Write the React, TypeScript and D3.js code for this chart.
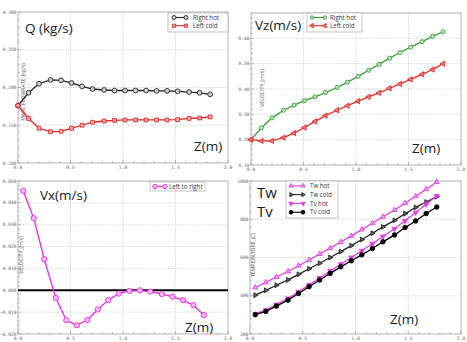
import React from 'react';
import * as d3 from 'd3';

// axial positions (m): node values for the top charts, cell centres for the bottom ones
const zNodes = [0, 0.1, 0.2, 0.31, 0.41, 0.51, 0.61, 0.71, 0.82, 0.92, 1.02, 1.12, 1.22, 1.32, 1.42, 1.52, 1.63, 1.73, 1.83];
const zCells = [0.05, 0.15, 0.25, 0.36, 0.46, 0.56, 0.66, 0.76, 0.86, 0.96, 1.06, 1.16, 1.26, 1.37, 1.47, 1.57, 1.67, 1.77];

// Q (kg/s)
const qRightHot = [0.176, 0.193, 0.205, 0.21, 0.2095, 0.206, 0.2015, 0.198, 0.1967, 0.196, 0.196, 0.196, 0.196, 0.1955, 0.1955, 0.195, 0.194, 0.193, 0.191];
const qLeftCold = [0.176, 0.159, 0.146, 0.1415, 0.142, 0.146, 0.15, 0.154, 0.1556, 0.1565, 0.157, 0.157, 0.157, 0.157, 0.157, 0.1574, 0.159, 0.1596, 0.161];

// Vz (m/s)
const vzRightHot = [0.2, 0.247, 0.286, 0.316, 0.336, 0.354, 0.369, 0.386, 0.406, 0.427, 0.45, 0.474, 0.497, 0.522, 0.544, 0.565, 0.587, 0.608, 0.626];
const vzLeftCold = [0.2, 0.195, 0.195, 0.208, 0.226, 0.248, 0.272, 0.295, 0.316, 0.334, 0.352, 0.369, 0.385, 0.403, 0.42, 0.438, 0.458, 0.477, 0.5];

// Vx (m/s)
const vxLeftToRight = [0.0455, 0.033, 0.0142, -0.0035, -0.0137, -0.016, -0.0136, -0.0088, -0.0045, -0.0015, -0.0003, 0.0, -0.0006, -0.0017, -0.0029, -0.0045, -0.0068, -0.0113];

// temperatures (C)
const twHot = [443, 470, 498, 527, 557, 587, 618, 649, 681, 713, 746, 779, 813, 848, 884, 920, 957, 995];
const twCold = [403, 428, 455, 483, 512, 541, 570, 600, 631, 662, 694, 727, 760, 794, 829, 862, 890, 918];
const tvHot = [306, 325, 354, 386, 421, 457, 493, 529, 565, 600, 635, 672, 710, 750, 792, 835, 878, 922];
const tvCold = [301, 318, 346, 377, 412, 447, 482, 517, 551, 583, 614, 647, 682, 718, 757, 791, 830, 864];

const xTicks = [0, 0.5, 1, 1.5, 2];
const qTicks = [0.1, 0.15, 0.2, 0.25, 0.3];
const vzTicks = [0.1, 0.2, 0.3, 0.4, 0.5, 0.6];
const vxTicks = [-0.02, -0.01, 0, 0.01, 0.02, 0.03, 0.04, 0.05];
const tTicks = [200, 400, 600, 800, 1000];

type Marker = 'circle' | 'square' | 'triUp' | 'triDown' | 'triLeft' | 'triRight';

interface Series {
  name: string;
  xs: number[];
  ys: number[];
  color: string;
  fill: string;
  marker: Marker;
  size: number;
}

interface Label { text: string; x: number; y: number; size: number }

interface PanelProps {
  l: number; r: number; t: number; b: number;
  yDomain: [number, number];
  yTicks: number[];
  yFmt: (v: number) => string;
  yMinorStep: number;
  yTitle: string;
  yTitleAt: [number, number];
  series: Series[];
  labels: Label[];
  legend: { x: number; y: number; w: number; h: number; rowH: number; sx: number; sw: number; tx: number };
  zeroLine?: boolean;
}

const symbolType = (m: Marker) =>
  m === 'circle' ? d3.symbolCircle : m === 'square' ? d3.symbolSquare : d3.symbolTriangle;
const symbolRot = (m: Marker) =>
  m === 'triDown' ? 180 : m === 'triLeft' ? -90 : m === 'triRight' ? 90 : 0;

const MarkerGlyph = ({ s, x, y, k = 1 }: { s: Series; x: number; y: number; k?: number }) => {
  const d = d3.symbol().type(symbolType(s.marker)).size(s.size * k)() || '';
  return (
    <path
      d={d}
      transform={`translate(${x},${y}) rotate(${symbolRot(s.marker)})`}
      fill={s.fill}
      stroke={s.color}
      strokeWidth={0.9}
    />
  );
};

const tickFont = 'DejaVu Sans Mono, monospace';
const textFont = '"Open Sans", "DejaVu Sans", sans-serif';

const Panel = (p: PanelProps) => {
  const x = d3.scaleLinear().domain([0, 2]).range([p.l, p.r]);
  const y = d3.scaleLinear().domain(p.yDomain).range([p.b, p.t]);
  const xMinor = d3.range(0, 2.0001, 0.1);
  const yMinor = d3.range(p.yDomain[0], p.yDomain[1] + p.yMinorStep / 2, p.yMinorStep);
  const line = d3.line<[number, number]>().x(d => x(d[0])).y(d => y(d[1]));

  return (
    <g>
      {/* grid */}
      {xTicks.slice(1, -1).map(v => (
        <line key={'gx' + v} x1={x(v)} x2={x(v)} y1={p.t} y2={p.b} stroke="#b8b8b8" strokeWidth={0.7} strokeDasharray="1,1.5" />
      ))}
      {p.yTicks.filter(v => v > p.yDomain[0] && v < p.yDomain[1]).map(v => (
        <line key={'gy' + v} x1={p.l} x2={p.r} y1={y(v)} y2={y(v)} stroke="#b8b8b8" strokeWidth={0.7} strokeDasharray="1,1.5" />
      ))}
      {/* minor ticks */}
      {xMinor.map(v => (
        <line key={'mx' + v} x1={x(v)} x2={x(v)} y1={p.b} y2={p.b - (xTicks.some(t => Math.abs(t - v) < 1e-6) ? 3 : 1.8)} stroke="#888" strokeWidth={0.6} />
      ))}
      {yMinor.map(v => (
        <line key={'my' + v} x1={p.l} x2={p.l + (p.yTicks.some(t => Math.abs(t - v) < 1e-9) ? 3 : 1.8)} y1={y(v)} y2={y(v)} stroke="#888" strokeWidth={0.6} />
      ))}
      <rect x={p.l} y={p.t} width={p.r - p.l} height={p.b - p.t} fill="none" stroke="#a0a0a0" strokeWidth={0.8} />
      {/* tick labels */}
      {xTicks.map(v => (
        <text key={'tx' + v} x={x(v)} y={p.b + 5.5} textAnchor="middle" fontFamily={tickFont} fontSize={4.6} fill="#666">
          {d3.format('.1f')(v)}
        </text>
      ))}
      {p.yTicks.map(v => (
        <text key={'ty' + v} x={p.l - 1.5} y={y(v) + 1.6} textAnchor="end" fontFamily={tickFont} fontSize={4.6} fill="#666">
          {p.yFmt(v)}
        </text>
      ))}
      {/* axis title */}
      <text
        transform={`translate(${p.yTitleAt[0]},${p.yTitleAt[1]}) rotate(-90)`}
        textAnchor="middle"
        fontFamily={textFont}
        fontSize={5.2}
        fill="#555"
      >
        {p.yTitle}
      </text>
      {p.zeroLine && <line x1={p.l} x2={p.r} y1={y(0)} y2={y(0)} stroke="#000" strokeWidth={2} />}
      {/* series */}
      {p.series.map(s => {
        const pts = s.xs.map((v, i) => [v, s.ys[i]] as [number, number]);
        return (
          <g key={s.name}>
            <path d={line(pts) || ''} fill="none" stroke={s.color} strokeWidth={1.3} />
            {pts.map((d, i) => <MarkerGlyph key={i} s={s} x={x(d[0])} y={y(d[1])} />)}
          </g>
        );
      })}
      {/* big labels */}
      {p.labels.map(lb => (
        <text key={lb.text + lb.x} x={lb.x} y={lb.y} fontFamily={textFont} fontSize={lb.size} fill="#1a1a1a">
          {lb.text}
        </text>
      ))}
      {/* legend */}
      <rect x={p.legend.x} y={p.legend.y} width={p.legend.w} height={p.legend.h} fill="#fff" stroke="#aaa" strokeWidth={0.7} />
      {p.series.map((s, i) => {
        const cy = p.legend.y + p.legend.rowH * (i + 0.55);
        return (
          <g key={'lg' + s.name}>
            <line x1={p.legend.sx} x2={p.legend.sx + p.legend.sw} y1={cy} y2={cy} stroke={s.color} strokeWidth={1.1} />
            <MarkerGlyph s={s} x={p.legend.sx} y={cy} k={0.7} />
            <MarkerGlyph s={s} x={p.legend.sx + p.legend.sw} y={cy} k={0.7} />
            <text x={p.legend.tx} y={cy + 2.2} fontFamily={textFont} fontSize={6.2} fill="#333">{s.name}</text>
          </g>
        );
      })}
    </g>
  );
};

const App = () => {
  return (
    <svg width={467} height={342} style={{ position: 'absolute', left: 0, top: 0, background: '#fff' }}>
      <Panel
        l={18} r={228} t={12} b={163}
        yDomain={[0.1, 0.3]}
        yTicks={qTicks}
        yFmt={d3.format('.3f')}
        yMinorStep={0.01}
        yTitle="MASS_FLOWRATE_(kg/s)"
        yTitleAt={[24.5, 92]}
        series={[
          { name: 'Right hot', xs: zNodes, ys: qRightHot, color: '#222', fill: '#d0d0d0', marker: 'circle', size: 18 },
          { name: 'Left cold', xs: zNodes, ys: qLeftCold, color: '#e02424', fill: '#f6b4b4', marker: 'square', size: 14 },
        ]}
        labels={[
          { text: 'Q (kg/s)', x: 25, y: 33, size: 13.5 },
          { text: 'Z(m)', x: 194, y: 151, size: 13.5 },
        ]}
        legend={{ x: 168, y: 13, w: 60, h: 19, rowH: 8.2, sx: 174, sw: 12, tx: 193 }}
      />
      <Panel
        l={251} r={461} t={13} b={165}
        yDomain={[0.1, 0.7]}
        yTicks={vzTicks}
        yFmt={d3.format('.2f')}
        yMinorStep={0.02}
        yTitle="VELOCITY_(m/s)"
        yTitleAt={[264, 88]}
        series={[
          { name: 'Right hot', xs: zNodes, ys: vzRightHot, color: '#3a9e3a', fill: '#bfe6bf', marker: 'circle', size: 13 },
          { name: 'Left cold', xs: zNodes, ys: vzLeftCold, color: '#e02a2a', fill: '#f08080', marker: 'triLeft', size: 12 },
        ]}
        labels={[
          { text: 'Vz(m/s)', x: 255, y: 30, size: 13.5 },
          { text: 'Z(m)', x: 412, y: 153, size: 13.5 },
        ]}
        legend={{ x: 307, y: 13, w: 55, h: 19, rowH: 8.2, sx: 312, sw: 13, tx: 330 }}
      />
      <Panel
        l={18} r={228} t={181} b={334}
        yDomain={[-0.02, 0.05]}
        yTicks={vxTicks}
        yFmt={d3.format('.3f')}
        yMinorStep={0.002}
        yTitle="VELOCITY_(m/s)"
        yTitleAt={[23, 255]}
        series={[
          { name: 'Left to right', xs: zCells, ys: vxLeftToRight, color: '#e030e0', fill: '#f6b8f6', marker: 'circle', size: 22 },
        ]}
        labels={[
          { text: 'Vx(m/s)', x: 40, y: 200, size: 13.5 },
          { text: 'Z(m)', x: 185, y: 332, size: 13.5 },
        ]}
        legend={{ x: 150, y: 182, w: 55, h: 9, rowH: 8.2, sx: 155, sw: 10, tx: 169 }}
        zeroLine
      />
      <Panel
        l={250} r={461} t={181} b={334}
        yDomain={[200, 1000]}
        yTicks={tTicks}
        yFmt={d3.format('d')}
        yMinorStep={40}
        yTitle="TEMPERATURE_(C)"
        yTitleAt={[255, 255]}
        series={[
          { name: 'Tw hot', xs: zCells, ys: twHot, color: '#e040e0', fill: '#f2a0f2', marker: 'triUp', size: 11 },
          { name: 'Tw cold', xs: zCells, ys: twCold, color: '#222', fill: '#666', marker: 'triRight', size: 10 },
          { name: 'Tv hot', xs: zCells, ys: tvHot, color: '#e040e0', fill: '#e040e0', marker: 'triDown', size: 11 },
          { name: 'Tv cold', xs: zCells, ys: tvCold, color: '#000', fill: '#000', marker: 'circle', size: 16 },
        ]}
        labels={[
          { text: 'Tw', x: 257, y: 198, size: 15 },
          { text: 'Tv', x: 257, y: 217, size: 15 },
          { text: 'Z(m)', x: 390, y: 324, size: 13.5 },
        ]}
        legend={{ x: 286, y: 181, w: 52, h: 37, rowH: 8.8, sx: 291, sw: 12, tx: 310 }}
      />
    </svg>
  );
};

export default App;
